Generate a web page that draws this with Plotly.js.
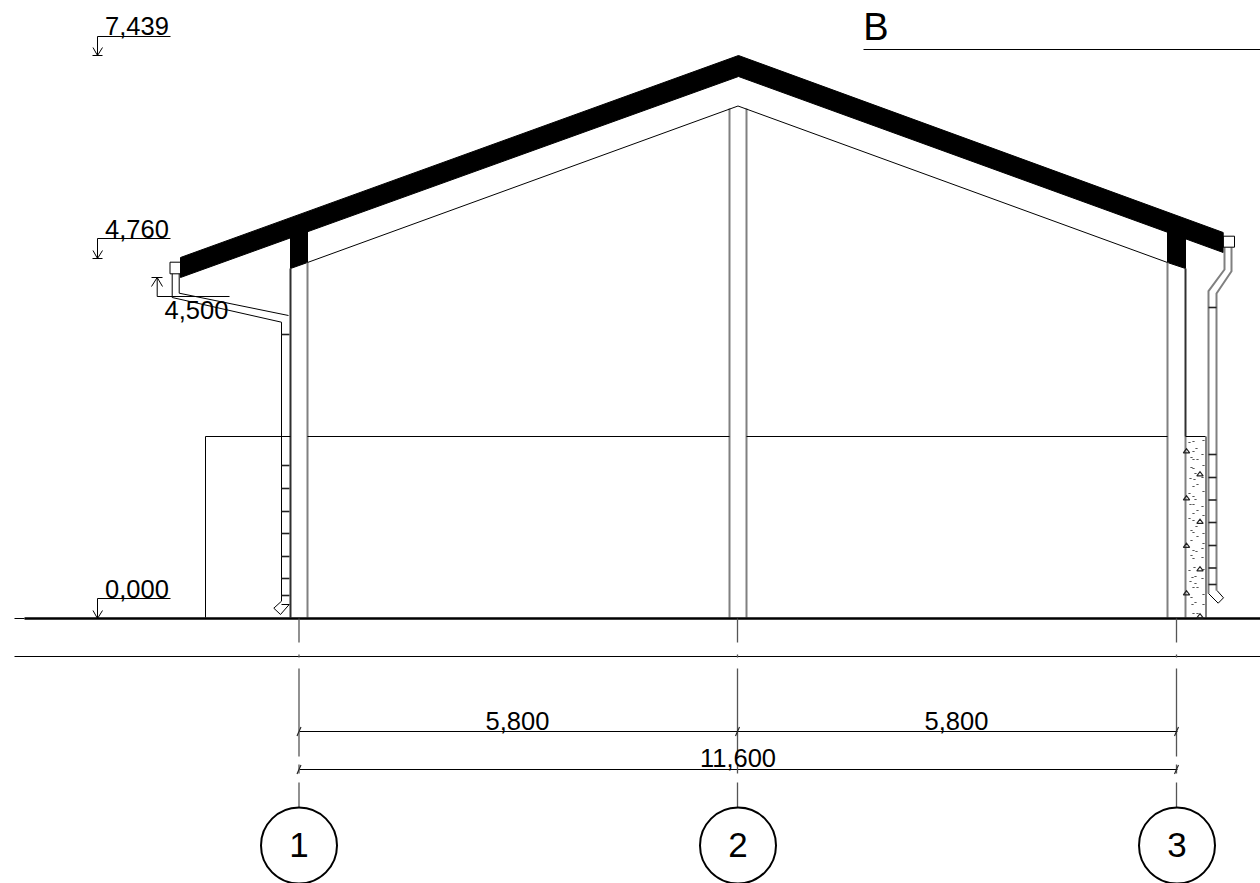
<!DOCTYPE html>
<html><head><meta charset="utf-8">
<script src="https://cdn.plot.ly/plotly-3.0.1.min.js"></script>
<style>html,body{margin:0;padding:0;background:#fff}#p{width:1260px;height:883px}</style>
</head><body><div id="p"></div>
<script>
// Roof and column heads (solid black)
const roofX=[180,738,1222.7,1222.7,738,180,180];
const roofY=[257,55,232,252,76,277,257];
const stubLeftX=[290,290,307,307,290];
const stubLeftY=[232,268,262,226,232];
const stubRightX=[1167,1167,1185,1185,1167];
const stubRightY=[226,262,268,232,226];
// Thin black lines (null separates pieces)
const thinX=[307,737.5,1167,null,205,205,null,205,290,null,307,729,null,746,1167,null,1185,1205,null,14,24,null,14,1260,null,863,1260,null,
 299,1177,null,299,1177,null,
 169.5,180,180,169.5,169.5,null,1222.7,1234,1234,1222.7,1222.7,null,
 97,170,null,97,97,null,92,102,null,92.5,97,102,null,
 97,170,null,97,97,null,92,102,null,92.5,97,102,null,
 97,170,null,97,97,null,92.5,97,102,null,
 156.7,229,null,156.7,156.7,null,151,162,null,151,156.7,162,null,
 178.7,178.7,288,null,171.7,171.7,281,281,null,
 281,288.7,280,273.3,281,null,1208,1217.7,1223,1216.5,null];
const thinY=[262,105.5,262,null,436,617,null,436,436,null,436,436,null,436,436,null,436,436,null,618,618,null,656,656,null,49,49,null,
 731,731,null,769,769,null,
 261.7,261.7,273.3,273.3,261.7,null,235.7,235.7,246.7,246.7,235.7,null,
 36,36,null,36,55,null,55,55,null,47,55,47,null,
 238,238,null,238,258,null,258,258,null,250,258,250,null,
 598,598,null,598,618,null,610,618,610,null,
 296,296,null,296,277,null,277,277,null,286,277,286,null,
 273.3,292.7,315,null,273.3,297,321.7,600.7,null,
 604,604,614,607.7,600.7,null,593,602.7,597.3,590,null];
// Grey lines: column faces, pipes, wall face
const greyX=[729,729,null,746,746,null,307,307,null,1167,1167,null,1185,1185,null,1205.5,1205.5,null,
 1224,1224,1208,1208,null,1231,1231,1216,1216,null];
const greyY=[108,617,null,108,617,null,262,617,null,262,617,null,436,617,null,436,617,null,
 247,269,290.7,593,null,247,270.7,293,590,null];
// Dark wall lines
const darkX=[290,290,null,1185,1185];
const darkY=[268,617,null,268,436];
// Pipe clips
const clipLeftY=[334,465,488,511,533,556,578,595];
const clipRightY=[307,454,477,499.5,522,545,567.5,584];
const clipLeftX=[281,289];
const clipRightX=[1208,1216];
// Ground line
const groundX=[24,1260];
const groundY=[618,618];
// Grid axis lines (dash-dot pieces)
const gridColumns=[298.5,737,1176];
const gridPiecesY=[[618,642],[654,657],[668,756],[764,773],[782,807]];
// Dimension slashes
const slashCentreX=[298.5,737,1176,298.5,1176];
const slashCentreY=[731,731,731,769,769];
// Concrete infill
const aggX=[1186,1199.5,1186,1199.5,1186,1199.5,1186,1199.5];
const aggY=[451,474,498,521.5,545.5,569,593,616];
const sandX=[1189,1193,1203,1196,1193,1202,1191,1193,1197,1203,1191,1193,1195,1190,1194,1202,1197,1193,1203,1189,1193,1195,1190,1193,1202,1197,1193,1203,1189,1193,1196,1191,1193,1203,1197,1191,1203,1193,1196,1202,1191,1193,1202,1189,1194,1203,1195,1192,1190,1195,1202,1193,1197,1203,1191,1195,1192,1203,1193,1197];
const sandY=[442,441,440,448,451,454,457,459,459,465,467,468,473,478,479,477,484,486,491,493,496,499,504,504,506,510,513,515,518,520,526,530,532,533,536,540,543,550,551,548,555,558,557,570,567,569,576,577,581,583,578,587,587,594,597,602,604,604,613,613];
// Texts
const dimLabels=['5,800','5,800','11,600','7,439','4,760','4,500','0,000'];
const dimLabelX=[517,956,737.5,136.5,136.5,196,136.5];
const dimLabelY=[723,723,760,28,231,312,591];
const sectionLabel=['B'];
const sectionX=[875.5];
const sectionY=[30];
const bubbleLabels=['1','2','3'];
const bubbleX=[298.5,737.5,1176.5];
const bubbleY=[845,845,845];
const bubbleTextY=[848,848,848];

function line(x,y,color,width){return {x:x,y:y,mode:'lines',line:{color:color,width:width},hoverinfo:'skip',connectgaps:false};}
function fill(x,y){return {x:x,y:y,mode:'lines',fill:'toself',fillcolor:'#000',line:{color:'#000',width:1},hoverinfo:'skip'};}
const gx=[],gy=[];
gridColumns.forEach(c=>gridPiecesY.forEach(p=>{gx.push(c,c,null);gy.push(p[0],p[1],null);}));
const cx=[],cy=[];
clipLeftY.forEach(v=>{cx.push(clipLeftX[0],clipLeftX[1],null);cy.push(v,v,null);});
clipRightY.forEach(v=>{cx.push(clipRightX[0],clipRightX[1],null);cy.push(v,v,null);});
const sx=[],sy=[];
slashCentreX.forEach((c,i)=>{sx.push(c-2,c+2,null);sy.push(slashCentreY[i]+4.5,slashCentreY[i]-4.5,null);});

const data=[
 fill(roofX,roofY),fill(stubLeftX,stubLeftY),fill(stubRightX,stubRightY),
 line(greyX,greyY,'#808080',2),
 line(darkX,darkY,'#303030',2),
 line(thinX,thinY,'#000',1),
 line(cx,cy,'#222',1.6),
 line(groundX,groundY,'#000',2.4),
 line(gx,gy,'#555',1.3),
 line(sx,sy,'#222',1.1),
 {x:sandX,y:sandY,mode:'markers',marker:{symbol:'line-ew',size:1.6,color:'#555',line:{color:'#555',width:1}},hoverinfo:'skip'},
 {x:aggX,y:aggY,mode:'markers',marker:{symbol:'triangle-up-open',size:5.5,color:'#222',line:{color:'#222',width:1.2}},hoverinfo:'skip'},
 {x:bubbleX,y:bubbleY,mode:'markers',marker:{symbol:'circle-open',size:76,color:'#000',line:{color:'#000',width:2}},hoverinfo:'skip'},
 {x:dimLabelX,y:dimLabelY,text:dimLabels,mode:'text',textposition:'middle center',textfont:{family:'Liberation Sans',size:25.5,color:'#000'},hoverinfo:'skip',cliponaxis:false},
 {x:bubbleX,y:bubbleTextY,text:bubbleLabels,mode:'text',textposition:'middle center',textfont:{family:'Liberation Sans',size:35,color:'#000'},hoverinfo:'skip'},
 {x:sectionX,y:sectionY,text:sectionLabel,mode:'text',textposition:'middle center',textfont:{family:'Liberation Sans',size:38,color:'#000'},hoverinfo:'skip'}
];
const layout={width:1260,height:883,margin:{l:0,r:0,t:0,b:0,pad:0},showlegend:false,paper_bgcolor:'#fff',plot_bgcolor:'#fff',
 xaxis:{range:[-0.5,1259.5],visible:false,fixedrange:true},
 yaxis:{range:[882.5,-0.5],visible:false,fixedrange:true},hovermode:false};
Plotly.newPlot('p',data,layout,{displayModeBar:false,staticPlot:true});
</script></body></html>
